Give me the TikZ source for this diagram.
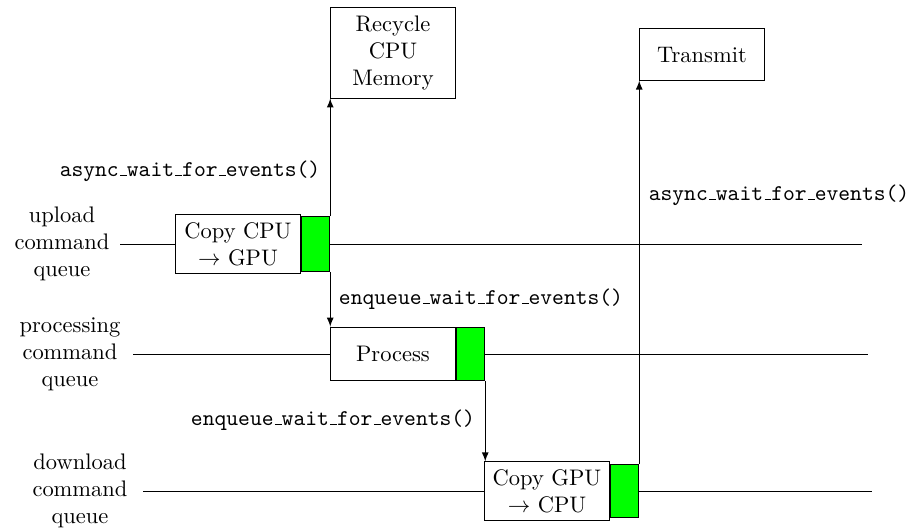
\documentclass[tikz,border=0pt]{standalone}
\usepackage{tikz}
\usetikzlibrary{shapes,arrows,positioning}
\tikzstyle{stage} = [draw, rectangle, fill=white, minimum width=1.94cm, text centered, align=center]
\tikzstyle{done} = [draw, rectangle, fill=green, minimum width=0.45cm, inner sep=0pt]
\tikzstyle{queueName} = [align=center]
\tikzstyle{call} = [font=\ttfamily]
\tikzstyle{syncArrow} = [->, >=latex]
\newcommand{\us}{\leavevmode\kern.06em\vbox{\hrule width.3em}}

\begin{document}
\begin{tikzpicture}[x=0.015625cm, y=-0.015625cm]
	\useasboundingbox (0,0) rectangle (913,529);
	%blocks
	\node[stage, minimum height=0.91cm](copy_up) at (238,244){Copy CPU\\$\rightarrow$ GPU};
	\node[done, minimum height=0.86cm, right=0pt of copy_up](up_done){};
	\node[stage, minimum height=1.42cm](recycle) at (393,52.5){Recycle\\CPU\\Memory};
	\node[stage, minimum height=0.84cm](process) at (393,354){Process};
	\node[done, minimum height=0.84cm, right=0pt of process](proc_done){};
	\node[stage, minimum height=0.91cm](copy_down) at (547,491){Copy GPU\\$\rightarrow$ CPU};
	\node[done, minimum height=0.84cm, right=0pt of copy_down](down_done){};
	\node[stage, minimum height=0.8cm](transmit) at (702,54.5){Transmit};

	%queues
	\node[queueName](upload) at (62,244){upload\\command\\queue};
	\node[queueName](processing) at (70,354){processing\\command\\queue};
	\node[queueName](download) at (80,491){download\\command\\queue};
	\coordinate (upload_in) at (120,244);
	\coordinate (upload_out) at (862,244);
	\coordinate (processing_in) at (133,354);
	\coordinate (processing_out) at (868,354);
	\coordinate (download_in) at (143,491);
	\coordinate (download_out) at (872,491);
	\draw (upload_in)--(copy_up);
	\draw (up_done)--(upload_out);
	\draw (processing_in)--(process);
	\draw (proc_done)--(processing_out);
	\draw (download_in)--(copy_down);
	\draw (down_done)--(download_out);

	%events
	\draw[syncArrow](up_done.north east)--(up_done.north east |- recycle.south);
	\draw[syncArrow](up_done.south east)--(up_done.south east |- process.north);
	\draw[syncArrow](proc_done.south east)--(proc_done.south east |- copy_down.north);
	\draw[syncArrow](down_done.north east)--(down_done.north east |- transmit.south);

	%calls
	\node[call](wait_up) at (190,171){async\us wait\us for\us events()};
	\node[call](enqueue_proc) at (481,299){enqueue\us wait\us for\us events()};
	\node[call](enqueue_down) at (333,420){enqueue\us wait\us for\us events()};
	\node[call](wait_down) at (779,195){async\us wait\us for\us events()};
\end{tikzpicture}
\end{document}
